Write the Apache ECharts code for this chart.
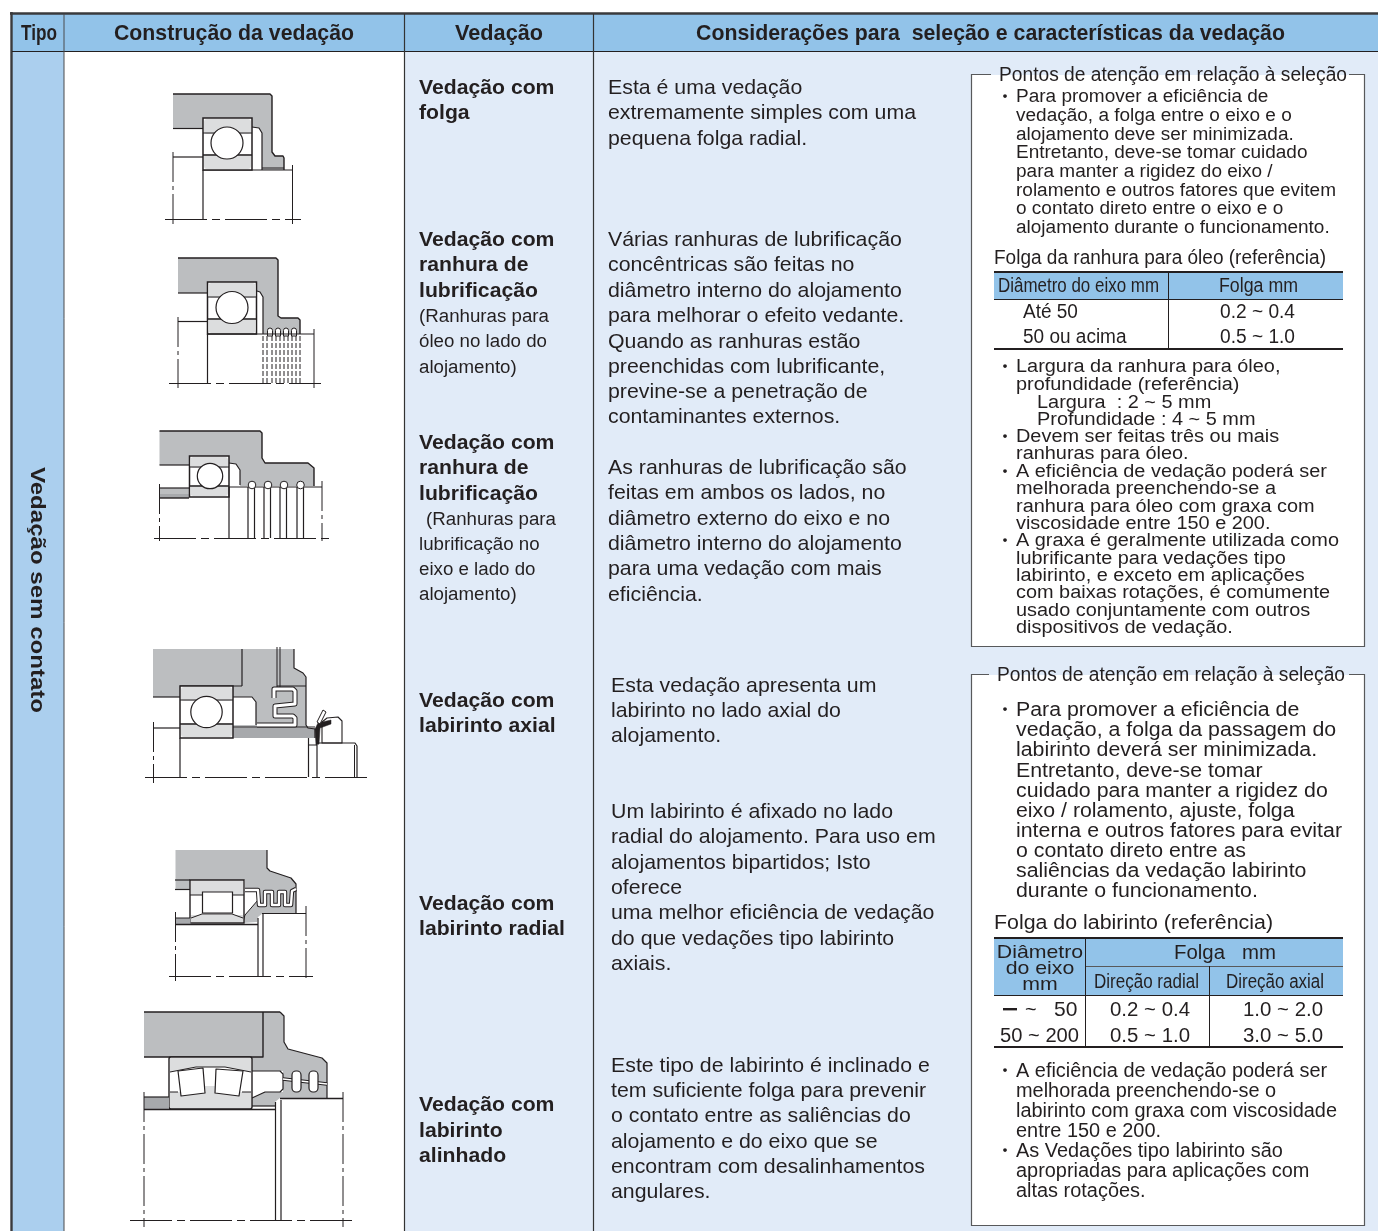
<!DOCTYPE html>
<html>
<head>
<meta charset="utf-8">
<style>
html, body { margin: 0; padding: 0; background: #fff; }
#chart { width: 1378px; height: 1231px; }
</style>
<script src="https://cdn.jsdelivr.net/npm/echarts@6/dist/echarts.min.js"></script>
</head>
<body>
<div id="chart"></div>
<script>
// textos da tabela
var headers = ['Tipo', 'Construção da vedação', 'Vedação', 'Considerações para  seleção e características da vedação']
var tipo = 'Vedação sem contato'

var sealNames = [
  ['Vedação com', 'folga'],
  ['Vedação com', 'ranhura de', 'lubrificação'],
  ['Vedação com', 'ranhura de', 'lubrificação'],
  ['Vedação com', 'labirinto axial'],
  ['Vedação com', 'labirinto radial'],
  ['Vedação com', 'labirinto', 'alinhado']
]
var sealNotes2 = ['(Ranhuras para', 'óleo no lado do', 'alojamento)']
var sealNotes3 = ['lubrificação no', 'eixo e lado do', 'alojamento)']

var desc = [
  ['Esta é uma vedação', 'extremamente simples com uma', 'pequena folga radial.'],
  ['Várias ranhuras de lubrificação', 'concêntricas são feitas no', 'diâmetro interno do alojamento', 'para melhorar o efeito vedante.', 'Quando as ranhuras estão', 'preenchidas com lubrificante,', 'previne-se a penetração de', 'contaminantes externos.'],
  ['As ranhuras de lubrificação são', 'feitas em ambos os lados, no', 'diâmetro externo do eixo e no', 'diâmetro interno do alojamento', 'para uma vedação com mais', 'eficiência.'],
  ['Esta vedação apresenta um', 'labirinto no lado axial do', 'alojamento.'],
  ['Um labirinto é afixado no lado', 'radial do alojamento. Para uso em', 'alojamentos bipartidos; Isto', 'oferece', 'uma melhor eficiência de vedação', 'do que vedações tipo labirinto', 'axiais.'],
  ['Este tipo de labirinto é inclinado e', 'tem suficiente folga para prevenir', 'o contato entre as saliências do', 'alojamento e do eixo que se', 'encontram com desalinhamentos', 'angulares.']
]

var boxTitle = 'Pontos de atenção em relação à seleção'
var notes1 = ['Para promover a eficiência de', 'vedação, a folga entre o eixo e o', 'alojamento deve ser minimizada.', 'Entretanto, deve-se tomar cuidado', 'para manter a rigidez do eixo /', 'rolamento e outros fatores que evitem', 'o contato direto entre o eixo e o', 'alojamento durante o funcionamento.']
var notes2a = ['Largura da ranhura para óleo,', 'profundidade (referência)']
var notes2b = ['Largura  : 2 ~ 5 mm', 'Profundidade : 4 ~ 5 mm']
var notes2c = ['Devem ser feitas três ou mais', 'ranhuras para óleo.', 'A eficiência de vedação poderá ser', 'melhorada preenchendo-se a', 'ranhura para óleo com graxa com', 'viscosidade entre 150 e 200.', 'A graxa é geralmente utilizada como', 'lubrificante para vedações tipo', 'labirinto, e exceto em aplicações', 'com baixas rotações, é comumente', 'usado conjuntamente com outros', 'dispositivos de vedação.']
var notes3 = ['Para promover a eficiência de', 'vedação, a folga da passagem do', 'labirinto deverá ser minimizada.', 'Entretanto, deve-se tomar', 'cuidado para manter a rigidez do', 'eixo / rolamento, ajuste, folga', 'interna e outros fatores para evitar', 'o contato direto entre as', 'saliências da vedação labirinto', 'durante o funcionamento.']
var notes4 = ['A eficiência de vedação poderá ser', 'melhorada preenchendo-se o', 'labirinto com graxa com viscosidade', 'entre 150 e 200.', 'As Vedações tipo labirinto são', 'apropriadas para aplicações com', 'altas rotações.']

var oilTitle = 'Folga da ranhura para óleo (referência)'
var oilHead = ['Diâmetro do eixo mm', 'Folga mm']
var oilShaft = ['Até 50', '50 ou acima']
var oilGap = ['0.2 ~ 0.4', '0.5 ~ 1.0']

var labTitle = 'Folga do labirinto (referência)'
var labHead = ['Diâmetro', 'do eixo', 'mm']
var labGapHead = ['Folga   mm', 'Direção radial', 'Direção axial']
var labRadial = ['0.2 ~ 0.4', '0.5 ~ 1.0']
var labAxial = ['1.0 ~ 2.0', '3.0 ~ 5.0']

var INK = '#231f20'
var HEAD = '#92c3e9'
var TIPO = '#abcfee'
var PALE = '#e1ebf8'
var GRAY = '#bcbec0'
var LIGHT = '#dcddde'
var FONT = '"Liberation Sans", Arial, sans-serif'
var els = []

var ctx = document.createElement('canvas').getContext('2d')
function fitScale(str, width, font) {
  ctx.font = font
  return width / ctx.measureText(str).width
}
function text(str, x, y, size, opts) {
  opts = opts || {}
  var font = (opts.bold ? 'bold ' : '') + size + 'px ' + (opts.family || FONT)
  els.push({
    type: 'text',
    x: x,
    y: y + 1,
    scaleX: opts.sx || 1,
    style: {
      text: str,
      font: font,
      fill: opts.fill || INK,
      align: opts.align || 'left',
      verticalAlign: 'middle'
    }
  })
}
// bloco de linhas com o mesmo tamanho e escala
function block(lines, x, ys, size, sx, opts) {
  lines.forEach(function(s, i) {
    text(s, x, ys[i], size, Object.assign({ sx: sx }, opts || {}))
  })
}
function rect(x, y, w, h, fill, stroke, lw, r) {
  els.push({ type: 'rect', shape: { x: x, y: y, width: w, height: h, r: r || 0 }, style: { fill: fill || 'none', stroke: stroke || 'none', lineWidth: lw || 1 } })
}
function line(x1, y1, x2, y2, lw, color, dash) {
  els.push({ type: 'line', shape: { x1: x1, y1: y1, x2: x2, y2: y2 }, style: { stroke: color || INK, lineWidth: lw || 1, lineDash: dash || null, fill: 'none' } })
}
function poly(points, fill, stroke, lw) {
  els.push({ type: 'polygon', shape: { points: points }, style: { fill: fill || 'none', stroke: stroke || INK, lineWidth: lw == null ? 1.2 : lw, lineJoin: 'round' } })
}
function pline(points, lw, color) {
  els.push({ type: 'polyline', shape: { points: points }, style: { fill: 'none', stroke: color || INK, lineWidth: lw || 1.2, lineJoin: 'round' } })
}
function circle(cx, cy, r, fill, lw) {
  els.push({ type: 'circle', shape: { cx: cx, cy: cy, r: r }, style: { fill: fill || '#fff', stroke: INK, lineWidth: lw || 1.2 } })
}
// canal branco de labirinto com contorno
function channel(points, w) {
  pline(points, w + 2, INK)
  pline(points, w, '#fff')
}
function centre(x1, x2, y) { line(x1, y, x2, y, 1, INK, [42, 5, 8, 5]) }
function axis(x, y1, y2) { line(x, y1, x, y2, 1, INK, [30, 4, 4, 4]) }
function ballBearing(x1, x2, y1, y2, ringH, cx, cy, r) {
  rect(x1, y1, x2 - x1, y2 - y1, '#fff', INK, 1.5)
  rect(x1 + 1, y1 + 1, x2 - x1 - 2, ringH, LIGHT, null, 1, 3)
  rect(x1 + 1, y2 - ringH - 1, x2 - x1 - 2, ringH, LIGHT, null, 1, 3)
  line(x1, y1 + ringH, x2, y1 + ringH, 1)
  line(x1, y2 - ringH, x2, y2 - ringH, 1.3)
  circle(cx, cy, r)
}

// fundo e grelha
function drawGrid() {
  rect(12, 14, 1366, 37, HEAD)
  rect(12, 52, 52, 1179, TIPO)
  rect(405, 52, 188, 1179, PALE)
  rect(594, 52, 784, 1179, PALE)
  line(10, 13.5, 1378, 13.5, 2.4, '#3a3a3c')
  line(11.5, 12, 11.5, 1231, 2.4, '#3a3a3c')
  line(12, 51.5, 1378, 51.5, 1.2)
  line(64, 14, 64, 1231, 1, '#4a4a4c')
  line(404.5, 14, 404.5, 1231, 1.2, '#333')
  line(593.5, 14, 593.5, 1231, 1.2, '#333')

  var f = 'bold 22px ' + FONT
  text(headers[0], 21, 33, 22, { bold: true, sx: fitScale(headers[0], 36, f) })
  text(headers[1], 114, 33, 22, { bold: true, sx: fitScale(headers[1], 240, f) })
  text(headers[2], 455, 33, 22, { bold: true, sx: fitScale(headers[2], 88, f) })
  text(headers[3], 696, 33, 22, { bold: true, sx: fitScale(headers[3], 589, f) })
  var fv = 'bold 21px ' + FONT
  els.push({
    type: 'text', x: 37, y: 590, rotation: -Math.PI / 2, scaleX: fitScale(tipo, 246, fv),
    style: { text: tipo, font: fv, fill: INK, align: 'center', verticalAlign: 'middle' }
  })
}

function drawSeal1() {
  poly([[173, 94], [270, 94], [272, 96], [272, 152], [275, 156], [283, 156], [284, 158], [284, 170], [262, 170], [262, 133], [259, 128], [252, 127], [252, 118], [203, 118], [203, 128.5], [173, 128.5]], GRAY, INK, 0)
  pline([[173, 94], [270, 94], [272, 96], [272, 152], [275, 156], [283, 156], [284, 158], [284, 170]], 1.4)
  pline([[173, 128.5], [203, 128.5]], 1.2)
  pline([[262, 170], [262, 133], [259, 128], [252, 127]], 1.2)
  line(262, 168, 284, 168, 1)
  line(173, 157, 203, 157, 1.2)
  line(203, 170, 292, 170, 1.2)
  line(203, 170, 203, 219, 1.2)
  ballBearing(203, 252, 118, 170, 15, 227, 143, 16)
  axis(173, 152, 224)
  line(292.5, 165, 292.5, 224, 1)
  centre(165, 301, 219.5)
}

function drawSeal2() {
  poly([[178, 258], [276, 258], [278, 260], [278, 316], [281, 318], [298, 318], [300, 320], [300, 334], [263, 334], [263, 297], [260, 292], [257, 291], [257, 282], [207, 282], [207, 293], [178, 293]], GRAY, INK, 0)
  pline([[178, 258], [276, 258], [278, 260], [278, 316], [281, 318], [298, 318], [300, 320], [300, 334]], 1.4)
  pline([[178, 293], [207, 293]], 1.2)
  pline([[263, 334], [263, 297], [260, 292], [257, 291]], 1.2)
  line(178, 321.5, 207, 321.5, 1.2)
  ballBearing(207.5, 256.5, 282, 334, 15, 232, 307.5, 16)
  var gx = [270, 278, 286, 294]
  gx.forEach(function(x) {
    rect(x - 2.5, 328, 5, 8, '#fff', INK, 1, [2.5, 2.5, 0, 0])
  })
  line(207, 334, 314, 334, 1.2)
  line(207.5, 334, 207.5, 383, 1.2)
  var dash = [5, 2]
  ;[263, 267, 272, 276, 280, 284, 288, 292, 296, 300].forEach(function(x) {
    line(x, 336, x, 383, 1, INK, dash)
  })
  axis(178, 317, 388)
  line(314, 329, 314, 388, 1)
  centre(169, 321, 383.5)
}

function drawSeal3() {
  poly([[159.5, 431], [260, 431], [262, 433], [262, 458], [265, 463], [308, 463], [314, 468], [314, 486], [240, 486], [240, 470], [236, 464], [229, 463], [229, 456], [189, 456], [189, 465], [159.5, 465]], GRAY, INK, 0)
  pline([[159.5, 431], [260, 431], [262, 433], [262, 458], [265, 463], [308, 463], [314, 468], [314, 486]], 1.4)
  pline([[159.5, 465], [189, 465]], 1.2)
  pline([[240, 485], [240, 470], [236, 464], [229, 463]], 1.2)
  rect(159.5, 488, 29.5, 10, '#a7a9ac', null)
  rect(159.5, 488, 29.5, 6, GRAY, null)
  line(159, 488, 189, 488, 1.2)
  line(159, 498, 189, 498, 1.4)
  ballBearing(189.5, 229, 456, 497, 11, 210, 476, 12.7)
  line(229, 487, 322, 487, 1.2)
  line(229, 487, 229, 538, 1.2)
  ;[248, 254.5, 264, 270.5, 280, 286.5, 297, 303.5].forEach(function(x) {
    line(x, 487, x, 538, 1.2)
  })
  ;[252, 268, 284, 300.5].forEach(function(x) {
    circle(x, 485, 3.8, '#fff', 1)
  })
  axis(159.5, 484, 541)
  axis(322, 481, 541)
  centre(154, 330, 538.5)
}

function drawSeal4() {
  poly([[153, 649], [242, 649], [242, 686], [180, 686], [180, 697], [153, 697]], GRAY, INK, 0)
  poly([[242, 649], [294, 649], [294, 668], [303, 673], [306, 677], [306, 725], [308, 728], [315, 729], [315, 738], [233, 738], [233, 725], [256, 725], [256, 702], [252, 697], [233, 697], [233, 686], [242, 686]], GRAY, INK, 0)
  rect(234, 728, 81, 10, '#a7a9ac', null)
  line(242, 649, 242, 686, 1.2)
  line(180, 686, 242, 686, 1.2)
  line(153, 697, 180, 697, 1.2)
  pline([[294, 649], [294, 668], [303, 673], [306, 677], [306, 725], [308, 728], [315, 729], [315, 738]], 1.2)
  pline([[233, 697], [252, 697], [256, 702], [256, 725]], 1.2)
  line(233, 727, 315, 727, 1.2)
  line(277, 647, 277, 687, 1)
  line(280, 647, 280, 687, 1)
  line(277, 686, 306, 686, 1)
  channel([[274, 698], [274, 689], [293, 689], [295, 691], [295, 704], [275, 706], [275, 716], [293, 716], [295, 718], [295, 725], [257, 725]], 3)
  ballBearing(180, 233, 686, 738, 14, 206.5, 712, 15.7)
  line(153, 728, 180, 728, 1.2)
  // retentor
  poly([[327, 718], [338, 717], [342, 721], [342, 743], [322, 743], [322, 722]], '#fff', INK, 1.1)
  poly([[315, 729], [318, 723], [331, 720], [331, 724], [320, 728], [319, 744], [316, 745]], INK, INK, 0.5)
  poly([[317, 722], [323, 710], [326, 712], [320, 724]], '#fff', INK, 1)
  pline([[317, 743], [355, 743], [357, 746], [357, 777]], 1.2)
  line(354.5, 745, 354.5, 777, 1)
  line(180, 738, 180, 777, 1.2)
  line(308.5, 738, 308.5, 777, 1.2)
  line(317, 745, 317, 777, 1.2)
  line(308, 745, 317, 745, 1)
  axis(153.5, 722, 783)
  centre(145, 367, 777.5)
}

function drawSeal5() {
  poly([[175.5, 850], [267, 850], [267, 868], [270, 871], [291, 878], [296, 884], [296, 913], [263, 913], [258, 917], [257, 922], [243, 923], [245, 915], [258, 900], [258, 891], [245, 890], [245, 880], [190, 880], [190, 889], [175.5, 889]], GRAY, INK, 0)
  pline([[267, 850], [267, 868], [270, 871], [291, 878], [296, 884], [296, 913]], 1.2)
  pline([[243, 922], [245, 915], [258, 900]], 1)
  line(175, 880, 190, 880, 1.2)
  line(175, 889.5, 190, 889.5, 1.2)
  // dentes do labirinto
  channel([[245, 890], [258, 890], [259, 905], [265, 905], [265, 892], [272, 892], [272, 905], [279, 905], [279, 892], [285, 892], [285, 905], [291, 905], [292, 891], [296, 889]], 2.4)
  rect(190, 880, 54, 43, '#fff', INK, 1.4)
  rect(191, 881, 52, 14, LIGHT, null)
  poly([[191, 915], [243, 915], [243, 922], [191, 922]], LIGHT, INK, 0)
  pline([[191, 918], [202, 914], [232, 914], [243, 918]], 1)
  rect(202.5, 892, 30, 21, '#fff', INK, 1.2)
  line(190, 895, 202, 895, 1)
  line(232, 895, 244, 895, 1)
  rect(175.5, 918, 15, 6, '#a7a9ac', null)
  line(175, 918, 190, 918, 1)
  line(175, 924.5, 258, 924.5, 1.3)
  line(258, 918, 258, 976, 1.2)
  line(263, 914, 263, 976, 1.2)
  line(262, 913.5, 306, 913.5, 1.2)
  axis(175.5, 912, 981)
  axis(306, 906, 981)
  centre(169, 313, 976.5)
}

function drawSeal6() {
  rect(144, 1012, 119, 45, GRAY)
  poly([[263, 1012], [280, 1012], [284, 1016], [284, 1042], [288, 1049], [322, 1058], [327, 1063], [327, 1098], [280, 1098], [275, 1102], [275, 1106], [252, 1106], [252, 1098], [265, 1092], [283, 1092], [283, 1071], [252, 1071], [252, 1057], [263, 1057]], GRAY, INK, 0)
  line(144, 1012, 280, 1012, 1.4)
  pline([[144, 1057], [263, 1057], [263, 1012]], 1.4)
  pline([[280, 1012], [284, 1016], [284, 1042], [288, 1049], [322, 1058], [327, 1063], [327, 1098]], 1.2)
  pline([[252, 1071], [280, 1071], [283, 1074], [283, 1089], [280, 1092], [265, 1092], [252, 1098]], 1.2)
  pline([[252, 1106], [275, 1106]], 1.2)
  channel([[283, 1079], [327, 1084]], 1.6)
  ;[292, 309].forEach(function(x) {
    rect(x, 1071, 9, 21, '#fff', INK, 1.2, 4)
  })
  // rolamento autocompensador
  rect(169, 1057, 83, 52, '#fff', INK, 1.4, 2)
  poly([[170, 1058], [251, 1058], [251, 1072], [225, 1067], [196, 1067], [170, 1072]], LIGHT, INK, 0)
  pline([[170, 1072], [196, 1067], [225, 1067], [251, 1072]], 1)
  rect(170, 1092, 81, 16, LIGHT)
  pline([[170, 1092], [178, 1092]], 1)
  pline([[242, 1092], [251, 1092]], 1)
  poly([[205, 1086], [216, 1086], [215, 1095], [206, 1095]], LIGHT, INK, 0)
  poly([[178, 1071], [203, 1068], [205, 1093], [181, 1096]], '#fff', INK, 1.2)
  poly([[216, 1069], [243, 1071], [239, 1096], [215, 1093]], '#fff', INK, 1.2)
  rect(144, 1097, 25, 12, '#a7a9ac')
  line(144, 1097, 169, 1097, 1.2)
  line(144, 1109.5, 275, 1109.5, 1.3)
  line(275.5, 1102, 275.5, 1220, 1.2)
  line(281, 1100, 281, 1220, 1.2)
  line(280, 1098.5, 343, 1098.5, 1.3)
  axis(144, 1092, 1227)
  axis(343, 1092, 1227)
  centre(130, 357, 1220.5)
}

function drawColumns() {
  var bf = 'bold 21px ' + FONT
  var bs = fitScale('labirinto radial', 146, bf)
  block(sealNames[0], 419, [87, 112], 21, bs, { bold: true })
  block(sealNames[1], 419, [239, 264, 290], 21, bs, { bold: true })
  block(sealNames[2], 419, [442, 467, 493], 21, bs, { bold: true })
  block(sealNames[3], 419, [700, 725], 21, bs, { bold: true })
  block(sealNames[4], 419, [903, 928], 21, bs, { bold: true })
  block(sealNames[5], 419, [1104, 1130, 1155], 21, bs, { bold: true })
  var nf = '18px ' + FONT
  var ns = fitScale(sealNotes2[0], 130, nf)
  block(sealNotes2, 419, [316, 341, 367], 18, ns)
  text(sealNotes2[0], 426, 519, 18, { sx: ns })
  block(sealNotes3, 419, [544, 569, 594], 18, ns)

  var df = '21px ' + FONT
  var ds = fitScale(desc[0][1], 308, df)
  block(desc[0], 608, [87, 112, 138], 21, ds)
  block(desc[1], 608, [239, 264, 290, 315, 341, 366, 391, 416], 21, ds)
  block(desc[2], 608, [467, 492, 518, 543, 568, 594], 21, ds)
  block(desc[3], 611, [685, 710, 735], 21, ds)
  block(desc[4], 611, [811, 836, 862, 887, 912, 938, 963], 21, ds)
  block(desc[5], 611, [1065, 1090, 1115, 1141, 1166, 1191], 21, ds)
}

function bullet(y) { text('・', 996, y - 1, 18, { family: '"Noto Sans CJK JP"' }) }

function drawBoxes() {
  rect(971.5, 74.5, 393, 572, '#fff', '#58595b', 1.2)
  rect(971.5, 674.5, 393, 551, '#fff', '#58595b', 1.2)
  var tf = '20px ' + FONT
  var ts = fitScale(boxTitle, 348, tf)
  rect(991, 73, 358, 3, PALE)
  rect(991, 75, 358, 1.5, '#fff')
  rect(989, 673, 360, 3, PALE)
  rect(989, 675, 360, 1.5, '#fff')
  text(boxTitle, 999, 74, 20, { sx: ts })
  text(boxTitle, 997, 674, 20, { sx: ts })

  var nf = '18px ' + FONT
  var s1 = fitScale(notes1[5], 320, nf)
  var y1 = [96, 115, 134, 152, 171, 190, 208, 227]
  block(notes1, 1016, y1, 18, s1)
  bullet(96)

  text(oilTitle, 994, 257, 20, { sx: fitScale(oilTitle, 332, tf) })
  rect(994, 272, 349, 27, HEAD)
  line(994, 272, 1343, 272, 2)
  line(994, 299.5, 1343, 299.5, 1)
  line(994, 349, 1343, 349, 2)
  line(1168.5, 272, 1168.5, 349, 1)
  var hf = '20px ' + FONT
  text(oilHead[0], 998, 285, 20, { sx: fitScale(oilHead[0], 161, hf) })
  text(oilHead[1], 1219, 285, 20, { sx: fitScale(oilHead[1], 79, hf) })
  block(oilShaft, 1023, [311, 336], 20, 0.95)
  block(oilGap, 1220, [311, 336], 20, fitScale(oilGap[0], 75, hf))

  var s2 = fitScale(notes2c[6], 323, nf)
  block(notes2a, 1016, [366, 384], 18, s2)
  block(notes2b, 1037, [402, 419], 18, s2)
  block(notes2c, 1016, [436, 453, 471, 488, 506, 523, 540, 558, 575, 592, 610, 627], 18, s2)
  ;[366, 436, 471, 540].forEach(bullet)

  var cf = '20px ' + FONT
  var s3 = fitScale(notes3[6], 326, cf)
  block(notes3, 1016, [709, 729, 749, 770, 790, 810, 830, 850, 870, 890], 20, s3)
  bullet(709)

  text(labTitle, 994, 922, 20, { sx: fitScale(labTitle, 279, tf) })
  rect(994, 938, 349, 57, HEAD)
  line(994, 938, 1343, 938, 2)
  line(1085, 966.5, 1343, 966.5, 1, '#58595b')
  line(994, 995.5, 1343, 995.5, 1)
  line(994, 1047, 1343, 1047, 2)
  line(1085.5, 938, 1085.5, 1047, 1)
  line(1209.5, 966, 1209.5, 1047, 1)
  block(labHead, 1040, [952, 968, 984], 19, 1.12, { align: 'center' })
  text(labGapHead[0], 1225, 952, 20, { align: 'center', sx: 1.02 })
  text(labGapHead[1], 1094, 981, 20, { sx: fitScale(labGapHead[1], 105, hf) })
  text(labGapHead[2], 1226, 981, 20, { sx: fitScale(labGapHead[2], 98, hf) })
  rect(1003, 1008, 14, 2.4, INK)
  text('~', 1025, 1009, 20)
  text('50', 1054, 1009, 21)
  text('50 ~ 200', 1000, 1035, 20, { sx: fitScale('50 ~ 200', 79, hf) })
  var gs = fitScale(labRadial[0], 80, hf)
  block(labRadial, 1110, [1009, 1035], 20, gs)
  block(labAxial, 1243, [1009, 1035], 20, gs)

  block(notes4, 1016, [1070, 1090, 1110, 1130, 1150, 1170, 1190], 20, fitScale(notes4[2], 321, cf))
  ;[1070, 1150].forEach(bullet)
}

drawGrid()
drawColumns()
drawBoxes()
drawSeal1()
drawSeal2()
drawSeal3()
drawSeal4()
drawSeal5()
drawSeal6()

var chart = echarts.init(document.getElementById('chart'), null, { renderer: 'canvas' })
chart.setOption({
  animation: false,
  backgroundColor: '#fff',
  graphic: { elements: els }
})
</script>
</body>
</html>
